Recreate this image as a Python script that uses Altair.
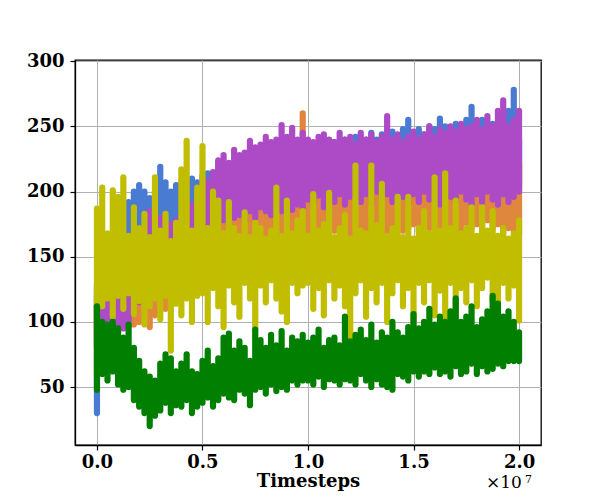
import altair as alt
import pandas as pd

# timesteps, in units of 1e7 (one reading every 0.025)
steps = [round(i * 0.025, 3) for i in range(81)]

# per-step minimum / maximum of each noisy curve
blue_lo = [30, 95, 110, 125, 130, 140, 145, 150, 155, 150,
           158, 160, 155, 162, 165, 160, 165, 170, 165, 168,
           170, 172, 168, 175, 172, 175, 170, 178, 175, 172,
           180, 178, 175, 182, 180, 178, 185, 182, 180, 185,
           182, 180, 186, 175, 182, 188, 180, 185, 182, 188,
           184, 190, 186, 188, 190, 184, 188, 192, 188, 190,
           188, 195, 192, 196, 190, 198, 192, 195, 198, 194,
           200, 196, 198, 200, 195, 200, 198, 202, 196, 200, 205]
blue_hi = [112, 140, 150, 165, 178, 185, 192, 200, 205, 200,
           195, 200, 219, 207, 200, 205, 207, 200, 210, 207,
           200, 214, 214, 223, 210, 215, 218, 212, 220, 215,
           218, 225, 220, 222, 218, 225, 222, 228, 225, 230,
           228, 232, 230, 235, 232, 238, 235, 240, 236, 242,
           238, 240, 245, 240, 244, 242, 246, 242, 248, 255,
           245, 248, 244, 250, 248, 256, 250, 246, 252, 250,
           255, 265, 252, 255, 250, 252, 250, 248, 262, 278, 240]

orange_lo = [85, 92, 95, 98, 95, 100, 96, 98, 100, 102,
             96, 105, 108, 110, 112, 115, 120, 125, 130, 135,
             138, 140, 142, 145, 150, 148, 152, 150, 155, 152,
             158, 155, 160, 158, 162, 160, 165, 162, 160, 165,
             162, 168, 165, 170, 165, 170, 168, 172, 165, 170,
             172, 168, 172, 170, 175, 168, 172, 175, 170, 172,
             175, 170, 176, 172, 175, 170, 178, 172, 175, 170,
             176, 172, 175, 170, 178, 172, 175, 168, 172, 170, 168]
orange_hi = [120, 130, 135, 140, 145, 150, 150, 155, 158, 160,
             162, 165, 168, 170, 172, 175, 180, 182, 185, 188,
             192, 195, 198, 200, 202, 205, 208, 210, 205, 210,
             212, 208, 215, 212, 218, 215, 220, 218, 225, 260,
             222, 218, 225, 220, 228, 222, 225, 230, 240, 228,
             225, 230, 226, 232, 228, 230, 234, 228, 232, 228,
             235, 230, 234, 230, 236, 232, 234, 230, 238, 232,
             235, 232, 238, 234, 236, 232, 238, 234, 236, 230, 222]

purple_lo = [80, 78, 85, 88, 92, 95, 100, 108, 115, 122,
             128, 135, 140, 142, 145, 150, 152, 155, 160, 165,
             168, 172, 170, 175, 178, 175, 180, 182, 178, 185,
             180, 188, 185, 182, 188, 185, 190, 186, 190, 188,
             194, 190, 197, 188, 196, 192, 198, 190, 196, 200,
             192, 198, 190, 200, 194, 198, 192, 200, 196, 190,
             198, 192, 200, 194, 198, 190, 200, 196, 192, 200,
             194, 190, 198, 192, 200, 194, 190, 198, 192, 196, 200]
purple_hi = [128, 125, 135, 140, 145, 150, 155, 160, 165, 168,
             185, 170, 180, 172, 175, 178, 180, 185, 190, 200,
             212, 208, 215, 224, 228, 222, 232, 228, 230, 239,
             234, 236, 242, 238, 240, 251, 242, 249, 240, 245,
             240, 238, 242, 244, 240, 238, 245, 240, 242, 236,
             245, 240, 244, 238, 242, 258, 240, 244, 238, 242,
             246, 240, 244, 250, 242, 248, 245, 250, 246, 252,
             248, 250, 255, 248, 258, 250, 262, 270, 250, 255, 262]

yellow_lo = [60, 112, 118, 104, 120, 110, 122, 106, 116, 98,
             112, 118, 102, 120, 78, 114, 105, 118, 100, 120,
             122, 100, 126, 112, 96, 128, 115, 104, 130, 118,
             94, 128, 115, 132, 118, 108, 100, 130, 122, 128,
             130, 110, 126, 105, 132, 118, 128, 112, 88, 122,
             132, 104, 126, 115, 130, 100, 122, 132, 112, 126,
             87, 130, 115, 132, 105, 124, 94, 130, 102, 126,
             115, 132, 112, 126, 134, 116, 112, 130, 118, 128, 101]
yellow_hi = [187, 203, 168, 201, 196, 211, 166, 188, 172, 183,
             165, 211, 170, 183, 162, 176, 217, 239, 170, 203,
             235, 172, 200, 193, 168, 192, 172, 166, 184, 165,
             176, 172, 164, 170, 203, 166, 193, 168, 178, 185,
             166, 198, 170, 175, 199, 165, 172, 182, 164, 220,
             170, 168, 220, 174, 206, 166, 172, 196, 165, 196,
             164, 172, 185, 168, 211, 170, 214, 172, 193, 168,
             172, 188, 166, 188, 170, 185, 166, 172, 164, 168, 178]

green_lo = [48, 60, 55, 62, 52, 48, 50, 40, 35, 30,
            20, 28, 32, 38, 30, 36, 35, 40, 30, 35,
            38, 42, 35, 40, 45, 42, 40, 48, 45, 36,
            48, 50, 45, 52, 47, 50, 48, 55, 52, 55,
            55, 52, 58, 50, 56, 55, 52, 56, 55, 52,
            60, 55, 50, 56, 52, 50, 48, 60, 58, 55,
            62, 58, 62, 60, 65, 60, 62, 58, 66, 60,
            62, 68, 60, 66, 62, 64, 68, 66, 70, 70, 70]
green_hi = [112, 100, 98, 100, 95, 88, 98, 80, 70, 62,
            58, 55, 68, 75, 72, 62, 68, 75, 62, 60,
            70, 78, 66, 72, 88, 91, 78, 85, 80, 70,
            94, 86, 80, 90, 82, 93, 78, 88, 85, 90,
            84, 88, 94, 80, 86, 88, 82, 104, 85, 90,
            94, 86, 98, 84, 92, 88, 100, 92, 88, 96,
            106, 95, 100, 110, 98, 104, 100, 108, 118, 100,
            104, 112, 96, 102, 108, 120, 114, 104, 108, 100, 92]

series = [
    (blue_lo, blue_hi, "#4a7bd3"),
    (orange_lo, orange_hi, "#e0873e"),
    (purple_lo, purple_hi, "#ad4bc6"),
    (yellow_lo, yellow_hi, "#c1bd00"),
    (green_lo, green_hi, "#007f00"),
]

FONT = "DejaVu Serif"

x_scale = alt.Scale(domain=[-0.104, 2.104], nice=False, zero=False)
y_scale = alt.Scale(domain=[5.5, 301], nice=False, zero=False)
x_axis = alt.Axis(values=[0, 0.5, 1.0, 1.5, 2.0], format=".1f", title="Timesteps", grid=True)
y_axis = alt.Axis(values=[50, 100, 150, 200, 250, 300], title=None, grid=True)

layers = []
for lo, hi, col in series:
    df = pd.DataFrame({"t": steps, "lo": lo, "hi": hi})
    layers.append(
        alt.Chart(df).mark_rule(color=col, strokeWidth=6.2, strokeCap="round", clip=True)
        .encode(x=alt.X("t:Q", scale=x_scale, axis=x_axis),
                y=alt.Y("lo:Q", scale=y_scale, axis=y_axis),
                y2="hi:Q")
    )

txt_df = pd.DataFrame({"a": [0]})
exp_base = alt.Chart(txt_df).mark_text(text="×10", font=FONT, fontSize=17, align="left",
                                       baseline="alphabetic", color="black").encode(
    x=alt.value(411), y=alt.value(428))
exp_sup = alt.Chart(txt_df).mark_text(text="7", font=FONT, fontSize=11, align="left",
                                      baseline="alphabetic", color="black").encode(
    x=alt.value(450), y=alt.value(423))

chart = alt.layer(*layers, exp_base, exp_sup).properties(
    width=466, height=385,
    autosize=alt.AutoSizeParams(type="none"),
    padding={"left": 67, "top": 52, "right": 51, "bottom": 47},
).configure_view(stroke="black", strokeWidth=1.3).configure_axis(
    labelFont=FONT, labelFontSize=18, labelFontWeight="bold", labelColor="black",
    titleFont=FONT, titleFontSize=18, titleFontWeight="bold", titleColor="black",
    domainColor="black", domainWidth=1.3, tickColor="black", tickSize=5, tickWidth=1.2,
    gridColor="#b0b0b0", gridWidth=1, labelPadding=3,
).configure_axisX(titlePadding=1).configure_axisY(labelPadding=6)

chart.save("out.html", embed_options={"renderer": "svg", "actions": False})
